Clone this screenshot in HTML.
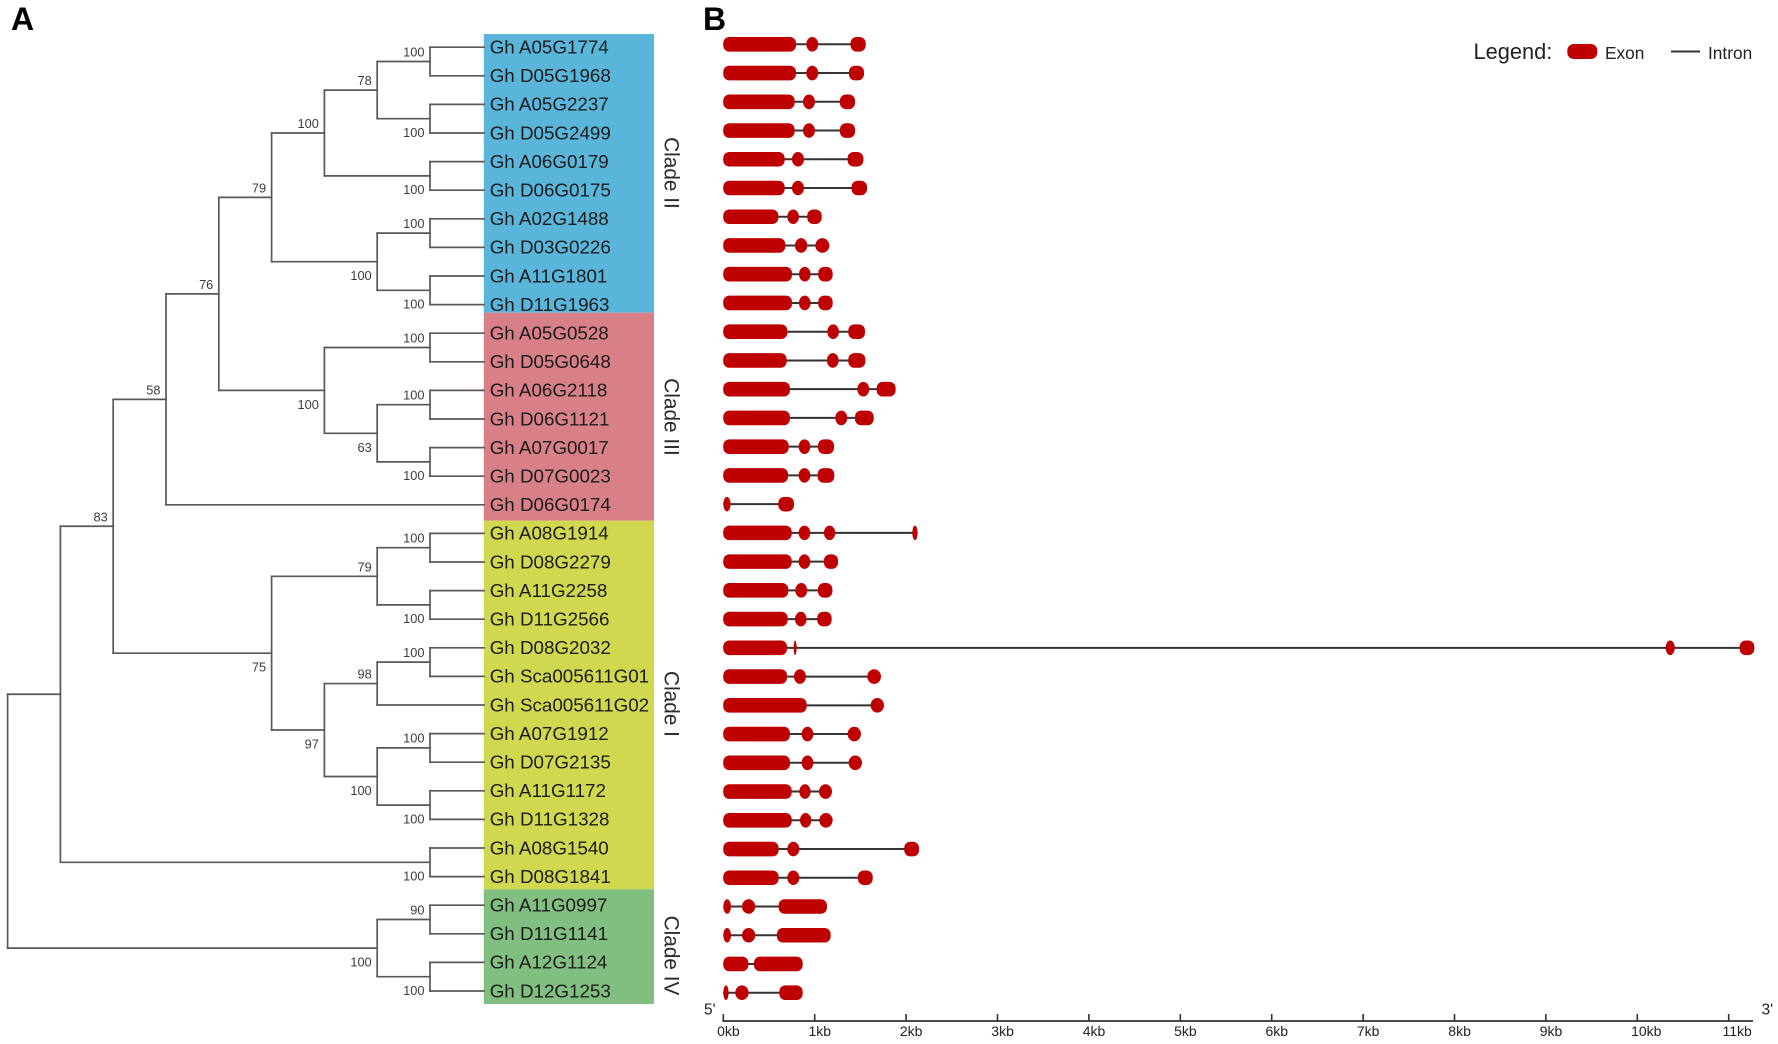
<!DOCTYPE html>
<html lang="en">
<head>
<meta charset="utf-8">
<title>Phylogenetic tree and gene structure</title>
<style>
html,body{margin:0;padding:0;background:#fff;}
#stage{display:block;width:1778px;height:1044px;filter:blur(0.35px);}
text{font-family:"Liberation Sans",Arial,sans-serif;}
</style>
</head>
<body>
<svg id="stage" xmlns="http://www.w3.org/2000/svg" width="1778" height="1044" viewBox="0 0 1778 1044">
  <rect x="0" y="0" width="1778" height="1044" fill="#ffffff"/>
  <text x="11" y="30" font-size="32" font-weight="700" fill="#000">A</text>
  <text x="703" y="30" font-size="32" font-weight="700" fill="#000">B</text>
  <g id="bands"></g>
  <g id="tree"></g>
  <g id="labels"></g>
  <g id="genes"></g>
  <g id="axis"></g>
  <g>
    <text x="1473.5" y="59" font-size="21.8" fill="#222">Legend:</text>
    <rect x="1567.3" y="44" width="30" height="15" rx="6.5" ry="6.5" fill="#be0000"/>
    <text x="1605" y="59" font-size="17.3" fill="#222">Exon</text>
    <line x1="1671" y1="51.5" x2="1700" y2="51.5" stroke="#333" stroke-width="2"/>
    <text x="1708" y="59" font-size="17.3" fill="#222">Intron</text>
  </g>
</svg>
<script>
var geneNames = ["Gh A05G1774","Gh D05G1968","Gh A05G2237","Gh D05G2499","Gh A06G0179","Gh D06G0175","Gh A02G1488","Gh D03G0226","Gh A11G1801","Gh D11G1963","Gh A05G0528","Gh D05G0648","Gh A06G2118","Gh D06G1121","Gh A07G0017","Gh D07G0023","Gh D06G0174","Gh A08G1914","Gh D08G2279","Gh A11G2258","Gh D11G2566","Gh D08G2032","Gh Sca005611G01","Gh Sca005611G02","Gh A07G1912","Gh D07G2135","Gh A11G1172","Gh D11G1328","Gh A08G1540","Gh D08G1841","Gh A11G0997","Gh D11G1141","Gh A12G1124","Gh D12G1253"];

/* exon start/end pairs for each gene, in kb */
var exonSpansKb = [
 [[0,.795],[.908,1.039],[1.393,1.557]],
 [[0,.795],[.908,1.039],[1.375,1.539]],
 [[0,.780],[.872,1.003],[1.276,1.441]],
 [[0,.780],[.872,1.003],[1.276,1.441]],
 [[0,.671],[.751,.883],[1.360,1.532]],
 [[0,.671],[.751,.883],[1.404,1.572]],
 [[0,.602],[.700,.828],[.919,1.076]],
 [[0,.678],[.784,.919],[1.007,1.160]],
 [[0,.751],[.828,.955],[1.039,1.196]],
 [[0,.751],[.828,.955],[1.039,1.196]],
 [[0,.700],[1.138,1.265],[1.368,1.550]],
 [[0,.693],[1.134,1.262],[1.368,1.554]],
 [[0,.729],[1.466,1.597],[1.678,1.885]],
 [[0,.729],[1.225,1.357],[1.441,1.645]],
 [[0,.715],[.824,.952],[1.036,1.211]],
 [[0,.708],[.824,.952],[1.032,1.214]],
 [[0,.080],[.602,.773]],
 [[0,.748],[.824,.952],[1.101,1.225],[2.068,2.126]],
 [[0,.748],[.824,.952],[1.101,1.255]],
 [[0,.711],[.788,.919],[1.036,1.193]],
 [[0,.704],[.784,.912],[1.028,1.185]],
 [[0,.697],[.770,.802],[10.31,10.41],[11.12,11.28]],
 [[0,.697],[.773,.904],[1.575,1.725]],
 [[0,.912],[1.612,1.758]],
 [[0,.729],[.857,.985],[1.360,1.506]],
 [[0,.729],[.857,.985],[1.371,1.517]],
 [[0,.748],[.832,.955],[1.047,1.189]],
 [[0,.748],[.839,.963],[1.050,1.196]],
 [[0,.605],[.700,.832],[1.980,2.141]],
 [[0,.605],[.700,.832],[1.473,1.634]],
 [[0,.084],[.204,.350],[.605,1.134]],
 [[0,.084],[.204,.350],[.587,1.174]],
 [[0,.274],[.336,.868]],
 [[0,.058],[.131,.277],[.613,.868]]
];

var axisTicksKb = [0,1,2,3,4,5,6,7,8,9,10,11];
var axisTickLabels = ["0kb","1kb","2kb","3kb","4kb","5kb","6kb","7kb","8kb","9kb","10kb","11kb"];

var cladeNames = ["Clade II","Clade III","Clade I","Clade IV"];
var cladeFirstRow = [0,10,17,30];
var cladeLastRow = [9,16,29,33];
var cladeColors = ["#59b5d9","#d87f87","#d0d850","#80bf80"];

/* tree: [depth, bootstrap, labelSide, child, child]; a number child is a gene row */
var treeRoot =
 [0,null,"",
  [1,null,"",
   [2,83,"u",
    [3,58,"u",
     [4,76,"u",
      [5,79,"u",
       [6,100,"u",
        [7,78,"u",[8,100,"u",0,1],[8,100,"d",2,3]],
        [8,100,"d",4,5]],
       [7,100,"d",[8,100,"u",6,7],[8,100,"d",8,9]]],
      [6,100,"d",
       [8,100,"u",10,11],
       [7,63,"d",[8,100,"u",12,13],[8,100,"d",14,15]]]],
     16],
    [5,75,"d",
     [7,79,"u",[8,100,"u",17,18],[8,100,"d",19,20]],
     [6,97,"d",
      [7,98,"u",[8,100,"u",21,22],23],
      [7,100,"d",[8,100,"u",24,25],[8,100,"d",26,27]]]]],
   [8,100,"d",28,29]],
  [7,100,"d",[8,90,"u",30,31],[8,100,"d",32,33]]];

var SVGNS = "http://www.w3.org/2000/svg";
function mk(tag, parent, attrs){
  var el = document.createElementNS(SVGNS, tag);
  for (var k in attrs) el.setAttribute(k, attrs[k]);
  parent.appendChild(el);
  return el;
}
function rowY(i){ return 47.7 + 28.6 * i; }
function geneY(i){ return 44.3 + 28.74 * i; }
function depthX(d){ return 7.6 + 52.8 * d; }
function kbX(kb){ return 723.3 + 91.4 * kb; }
var LEAF_X = 484;

/* clade bands */
var bandsG = document.getElementById("bands");
var bandEdges = [34, 312.7, 520.7, 889.3, 1004];
var cladeLabelShift = [-3.4, -2.5, -1.5, 6.9];
cladeNames.forEach(function(name, i){
  var band = mk("rect", bandsG, {x:483.8, y:bandEdges[i], width:170.2, height:bandEdges[i+1]-bandEdges[i], fill:cladeColors[i]});
  
  
  var cy = (rowY(cladeFirstRow[i]) + rowY(cladeLastRow[i])) / 2 + cladeLabelShift[i];
  var t = mk("text", bandsG, {x:0, y:0, "font-size":20.8, fill:"#2a2a2a", "text-anchor":"middle", transform:"translate(664.5,"+cy+") rotate(90)"});
  t.textContent = name;
  
  
});

/* tree */
var treeG = document.getElementById("tree");
function segment(x1, y1, x2, y2){
  var l = mk("line", treeG, {x1:x1, y1:y1 - 0.5, x2:x2, y2:y2 - 0.5, stroke:"#5c5755", "stroke-width":1.7, "stroke-linecap":"square"});
  
  
}
function support(text, x, y){
  var t = mk("text", treeG, {x:x, y:y, "font-size":12.8, fill:"#3c3c3c", "text-anchor":"end"});
  t.textContent = text;
  
  
}
function drawNode(node){
  var x = depthX(node[0]);
  var ys = [];
  for (var i = 3; i < node.length; i++){
    var child = node[i];
    if (typeof child === "number"){
      var ly = rowY(child);
      segment(x, ly, LEAF_X, ly);
      ys.push(ly);
    } else {
      var cy = drawNode(child);
      segment(x, cy, depthX(child[0]), cy);
      ys.push(cy);
    }
  }
  var top = ys[0], bottom = ys[ys.length - 1];
  segment(x, top, x, bottom);
  var y = (top + bottom) / 2;
  if (node[1] !== null){
    var labelY;
    if (node[0] === 8){
      labelY = node[2] === "u" ? top + 3.6 : bottom - 1.5;
    } else {
      labelY = node[2] === "u" ? y - 10.5 : y + 13;
    }
    support(String(node[1]), x - 5.5, labelY + 5);
  }
  return y;
}
drawNode(treeRoot);

/* gene labels */
var labelsG = document.getElementById("labels");
geneNames.forEach(function(name, i){
  var t = mk("text", labelsG, {x:489.7, y:rowY(i) + 5.8, "font-size":18.8, fill:"#1c1c1c"});
  t.textContent = name;
  
  
});

/* gene structures */
var genesG = document.getElementById("genes");
exonSpansKb.forEach(function(spans, i){
  var y = geneY(i);
  var intron = mk("line", genesG, {x1:kbX(spans[0][0]), y1:y, x2:kbX(spans[spans.length-1][1]), y2:y, stroke:"#333", "stroke-width":2});
  
  
  spans.forEach(function(s){
    var x0 = kbX(s[0]), x1 = kbX(s[1]), w = x1 - x0;
    var rx = w < 14 ? w / 2 : 6, ry = w < 14 ? 7.3 : 6;
    var e = mk("rect", genesG, {x:x0, y:y - 7.3, width:w, height:14.6, rx:rx, ry:ry, fill:"#be0000"});
    
    
  });
});

/* axis */
var axisG = document.getElementById("axis");
var axisLine = mk("line", axisG, {x1:kbX(0) - 1, y1:1021, x2:1753, y2:1021, stroke:"#333", "stroke-width":1.8});


axisTicksKb.forEach(function(kb, i){
  var x = kbX(kb);
  var tick = mk("line", axisG, {x1:x, y1:1014, x2:x, y2:1021, stroke:"#333", "stroke-width":1.6});
  
  
  var t = mk("text", axisG, {x:x - 6.2, y:1036, "font-size":14, fill:"#222"});
  t.textContent = axisTickLabels[i];
  
  
});
var five = mk("text", axisG, {x:704, y:1014.5, "font-size":15.5, fill:"#222"});
five.textContent = "5'";


var three = mk("text", axisG, {x:1761.5, y:1014.5, "font-size":15.5, fill:"#222"});
three.textContent = "3'";


</script>
</body>
</html>
